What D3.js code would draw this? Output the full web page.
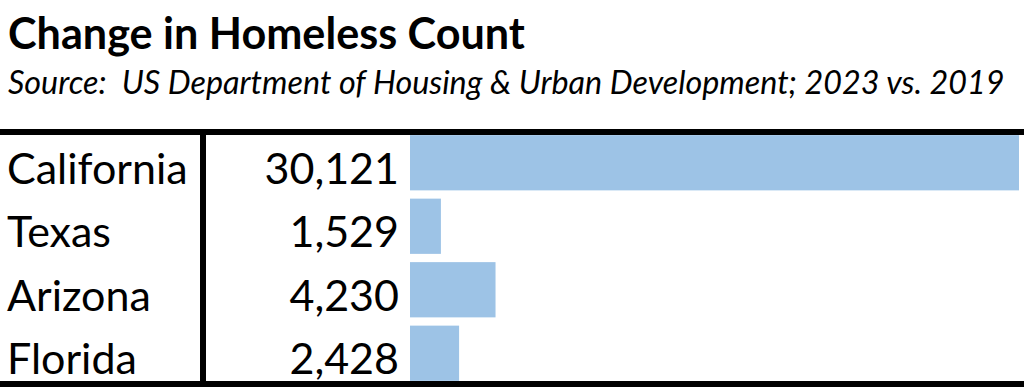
<!DOCTYPE html>
<html lang="en">
<head>
<meta charset="UTF-8">
<title>Change in Homeless Count</title>
<script src="https://cdn.jsdelivr.net/npm/d3@7/dist/d3.min.js"></script>
<style>
  * { margin: 0; padding: 0; box-sizing: border-box; }
  body { background: #fff; width: 1024px; height: 387px; overflow: hidden; }
  svg { display: block; font-family: 'Lato', 'Open Sans', sans-serif; }
  .title { font-weight: 700; fill: #000; }
  .subtitle { font-style: italic; fill: #000; white-space: pre; }
  .label, .value { fill: #000; font-size: 43px; }
</style>
</head>
<body>
<svg id="chart" width="1024" height="387"></svg>
<script>
// ─── Data ────────────────────────────────────────────────────────────────────
const states = ['California', 'Texas', 'Arizona', 'Florida'];
const changes = [30121, 1529, 4230, 2428];
const titleText = 'Change in Homeless Count';
const subtitleText = 'Source:  US Department of Housing & Urban Development; 2023 vs. 2019';

const rows = states.map((s, i) => ({ state: s, value: changes[i] }));

const W = 1024, H = 387;
const svg = d3.select('#chart');

// scale a text's font-size so it spans the wanted width
function fitWidth(sel, target) {
  const node = sel.node();
  const fs = parseFloat(sel.style('font-size'));
  const w = node.getComputedTextLength();
  sel.style('font-size', (fs * target / w) + 'px');
}

const title = svg.append('text').attr('class', 'title')
  .attr('x', 8).attr('y', 49).style('font-size', '38px').text(titleText);
fitWidth(title, 517);

const sub = svg.append('text').attr('class', 'subtitle')
  .attr('x', 8).attr('y', 94).style('font-size', '28px').text(subtitleText);
fitWidth(sub, 997);

// ─── Scales ──────────────────────────────────────────────────────────────────
const x = d3.scaleLinear()
  .domain([0, d3.max(changes)])
  .range([410, 1019]);

const y = d3.scaleBand()
  .domain(states)
  .range([131, 385])
  .paddingInner(0.13)
  .paddingOuter(0.065);

const fmt = d3.format(',');

// bars
svg.append('g').selectAll('rect')
  .data(rows)
  .enter().append('rect')
  .attr('x', x(0))
  .attr('y', d => y(d.state))
  .attr('width', d => x(d.value) - x(0))
  .attr('height', y.bandwidth())
  .attr('fill', '#9dc3e6');

// category labels
svg.append('g').selectAll('text')
  .data(rows)
  .enter().append('text')
  .attr('class', 'label')
  .attr('x', 7)
  .attr('y', d => y(d.state) + y.bandwidth() / 2 + 21)
  .text(d => d.state);

// value labels
svg.append('g').selectAll('text')
  .data(rows)
  .enter().append('text')
  .attr('class', 'value')
  .attr('x', 399)
  .attr('text-anchor', 'end')
  .attr('y', d => y(d.state) + y.bandwidth() / 2 + 21)
  .text(d => fmt(d.value));

// table rules
svg.append('line').attr('x1', 0).attr('x2', W).attr('y1', 132).attr('y2', 132)
  .attr('stroke', '#000').attr('stroke-width', 6);
svg.append('line').attr('x1', 0).attr('x2', W).attr('y1', 384).attr('y2', 384)
  .attr('stroke', '#000').attr('stroke-width', 6);
svg.append('line').attr('x1', 203).attr('x2', 203).attr('y1', 129).attr('y2', H)
  .attr('stroke', '#000').attr('stroke-width', 6);
</script>
</body>
</html>
